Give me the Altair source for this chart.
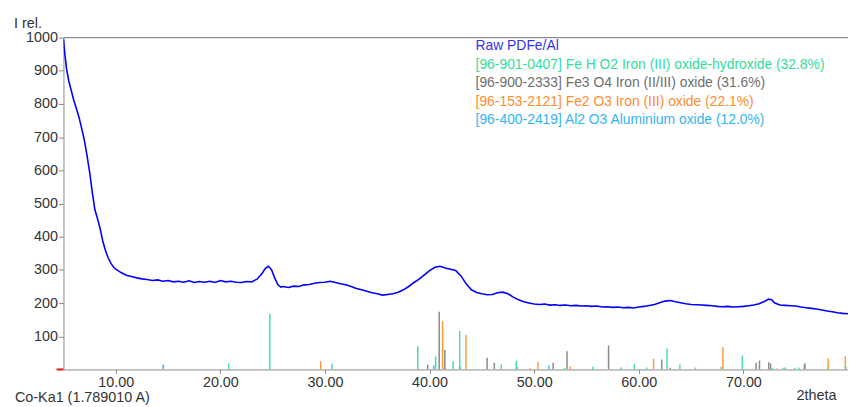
import altair as alt
import pandas as pd

# ---- measured pattern (2theta, relative intensity) ----
two_theta = [5.0, 5.1, 5.3, 5.5, 5.75, 6.0, 6.25, 6.5, 6.75, 7.0, 7.25, 7.5, 7.75, 8.0, 8.25, 8.5, 8.75,
             9.0, 9.25, 9.5, 9.75, 10.0, 10.5, 11.0, 11.5, 12.0, 12.5, 13.0, 13.5, 14.0, 14.5, 15.0,
             15.5, 16.0, 16.5, 17.0, 17.5, 18.0, 18.5, 19.0, 19.5, 20.0, 20.5, 21.0, 21.5, 22.0, 22.5,
             23.0, 23.5, 24.0, 24.3, 24.6, 24.9, 25.2, 25.5, 25.8, 26.0, 26.5, 27.0, 27.5, 28.0, 28.5,
             29.0, 29.5, 30.0, 30.5, 31.0, 31.5, 32.0, 32.5, 33.0, 33.5, 34.0, 34.5, 35.0, 35.5, 36.0,
             36.5, 37.0, 37.5, 38.0, 38.5, 39.0, 39.5, 40.0, 40.5, 41.0, 41.5, 42.0, 42.5, 43.0, 43.5,
             44.0, 44.5, 45.0, 45.5, 46.0, 46.5, 47.0, 47.5, 48.0, 48.5, 49.0, 49.5, 50.0, 50.5, 51.0,
             51.5, 52.0, 52.5, 53.0, 53.5, 54.0, 54.5, 55.0, 55.5, 56.0, 56.5, 57.0, 57.5, 58.0, 58.5,
             59.0, 59.5, 60.0, 60.5, 61.0, 61.5, 62.0, 62.5, 63.0, 63.5, 64.0, 64.5, 65.0, 65.5, 66.0,
             66.5, 67.0, 67.5, 68.0, 68.5, 69.0, 69.5, 70.0, 70.5, 71.0, 71.5, 72.0, 72.4, 72.7, 73.0,
             73.5, 74.0, 74.5, 75.0, 75.5, 76.0, 76.5, 77.0, 77.5, 78.0, 78.5, 79.0, 79.5, 80.0]
intensity = [995, 960, 905, 870, 840, 810, 785, 758, 725, 690, 645, 595, 535, 482, 455, 425, 388,
             360, 338, 322, 310, 302, 292, 284, 280, 276, 273, 271, 268, 270, 266, 268,
             264, 266, 263, 267, 262, 265, 263, 266, 262, 268, 264, 266, 263, 262, 265,
             264, 272, 290, 305, 311, 300, 275, 255, 248, 250, 247, 251, 250, 255, 256,
             260, 262, 263, 266, 262, 258, 255, 250, 244, 240, 236, 231, 228, 224, 226,
             228, 233, 240, 250, 262, 272, 285, 298, 308, 311, 306, 302, 298, 282, 258,
             240, 232, 228, 225, 226, 231, 233, 228, 218, 210, 204, 200, 197, 196, 197,
             194, 195, 193, 194, 192, 193, 191, 192, 190, 191, 188, 189, 187, 188, 186,
             187, 185, 188, 190, 193, 196, 201, 206, 208, 204, 201, 198, 196, 195, 194,
             193, 192, 190, 189, 190, 188, 189, 190, 192, 194, 198, 205, 212, 210, 200,
             194, 193, 192, 191, 188, 186, 184, 182, 179, 176, 174, 171, 169, 168]

# ---- reference phase sticks ----
phase_names = [
    "[96-901-0407] Fe H O2 Iron (III) oxide-hydroxide (32.8%)",
    "[96-900-2333] Fe3 O4 Iron (II/III) oxide (31.6%)",
    "[96-153-2121] Fe2 O3 Iron (III) oxide (22.1%)",
    "[96-400-2419] Al2 O3 Aluminium oxide (12.0%)",
]
phase_text_colors = ["#33dd99", "#6e6e6e", "#ff8c2e", "#33b5f5"]
phase_stick_colors = ["#45e0a5", "#8a8a8a", "#ff9a40", "#3ab8f0"]

feho2_pos = [20.79, 24.73, 30.66, 38.87, 40.58, 41.5, 42.25, 42.88, 46.86, 48.28, 52.9, 55.6,
             59.58, 60.75, 62.70, 63.93, 65.42, 67.88, 69.9, 72.8, 73.8, 74.9, 75.3, 75.9, 78.1, 79.8]
feho2_int = [19, 168, 17, 70, 39, 5, 25, 116, 15, 26, 5, 8,
             17, 6, 63, 15, 6, 8, 42, 5, 5, 5, 6, 20, 8, 8]
fe3o4_pos = [39.82, 40.92, 41.46, 45.50, 46.19, 51.81, 53.14, 57.11, 62.2, 63.0, 71.22, 71.54,
             72.42, 72.6, 75.83]
fe3o4_int = [14, 174, 59, 35, 20, 20, 55, 72, 30, 5, 20, 27, 22, 18, 15]
fe2o3_pos = [29.59, 41.24, 43.48, 49.6, 50.36, 53.45, 61.41, 68.04, 73.2, 78.1, 79.74]
fe2o3_int = [25, 145, 104, 5, 23, 9, 32, 68, 3, 33, 40]
al2o3_pos = [14.53, 40.39, 42.9, 48.35, 51.4, 58.3, 74.0]
al2o3_int = [15, 12, 8, 8, 12, 6, 6]

x_ticks = [10, 20, 30, 40, 50, 60, 70]
y_ticks = [100, 200, 300, 400, 500, 600, 700, 800, 900, 1000]

raw_label = "Raw PDFe/Al"
y_title = "I rel."
x_title = "Co-Ka1 (1.789010 A)"
x_unit = "2theta"

FONT = "Liberation Sans"

raw_df = pd.DataFrame({"t": two_theta, "i": intensity})
stick_rows = []
for name, pos, val in zip(phase_names,
                          [feho2_pos, fe3o4_pos, fe2o3_pos, al2o3_pos],
                          [feho2_int, fe3o4_int, fe2o3_int, al2o3_int]):
    for p, v in zip(pos, val):
        stick_rows.append({"t": p, "i": v, "phase": name})
stick_df = pd.DataFrame(stick_rows)

W, H = 792, 335
xscale = alt.Scale(domain=[5, 80], nice=False, zero=False)
yscale = alt.Scale(domain=[0, 1000], nice=False)

x_axis = alt.Axis(values=x_ticks, tickCount=len(x_ticks), format=".2f", title=None, grid=False,
                  tickSize=4, labelPadding=2, domainColor="#8c8c8c", tickColor="#8c8c8c",
                  labelOverlap=False, labelColor="#333333", labelFont=FONT, labelFontSize=14.5)
y_axis = alt.Axis(values=y_ticks, tickCount=len(y_ticks), format="d", title=None, grid=False,
                  tickSize=5, labelPadding=1, domainColor="#8c8c8c", tickColor="#8c8c8c",
                  labelOverlap=False, labelColor="#333333", labelFont=FONT, labelFontSize=14.5)

sticks = alt.Chart(stick_df).mark_rule(strokeWidth=1.5, clip=True).encode(
    x=alt.X("t:Q", scale=xscale, axis=x_axis),
    y=alt.Y("i:Q", scale=yscale, axis=y_axis),
    y2=alt.datum(0),
    color=alt.Color("phase:N", scale=alt.Scale(domain=phase_names, range=phase_stick_colors),
                    legend=None),
)

line = alt.Chart(raw_df).mark_line(color="#0000ff", strokeWidth=1.6, clip=True).encode(
    x=alt.X("t:Q", scale=xscale, axis=x_axis),
    y=alt.Y("i:Q", scale=yscale, axis=y_axis),
)

top_frame = alt.Chart(pd.DataFrame({"a": [0]})).mark_rule(color="#8c8c8c", strokeWidth=1.2).encode(
    x=alt.value(0), x2=alt.value(W), y=alt.value(0)
)
red_mark = alt.Chart(pd.DataFrame({"a": [0]})).mark_rule(color="#ee1111", strokeWidth=2).encode(
    x=alt.value(-7), x2=alt.value(0), y=alt.value(H)
)

legend_labels = [raw_label] + phase_names
legend_colors = ["#3333ee"] + phase_text_colors
layers = [sticks, line, top_frame, red_mark]
for k, (lab, col) in enumerate(zip(legend_labels, legend_colors)):
    layers.append(
        alt.Chart(pd.DataFrame({"a": [0]})).mark_text(
            text=lab, color=col, font=FONT, fontSize=14, align="left", baseline="middle"
        ).encode(x=alt.value(416), y=alt.value(9 + k * 18.6))
    )

for txt, xv, yv in [(y_title, -50, -14), (x_title, -49, 364), (x_unit, 740, 362)]:
    layers.append(
        alt.Chart(pd.DataFrame({"a": [0]})).mark_text(
            text=txt, color="#333333", font=FONT, fontSize=14.5, align="left", baseline="middle"
        ).encode(x=alt.value(xv), y=alt.value(yv))
    )

chart = alt.layer(*layers).properties(
    width=W, height=H,
    padding={"left": 56, "top": 28, "right": 0, "bottom": 36},
    autosize=alt.AutoSizeParams(type="none"),
).configure_view(stroke=None)

chart.save("out.html", embed_options={"renderer": "svg", "actions": False})
